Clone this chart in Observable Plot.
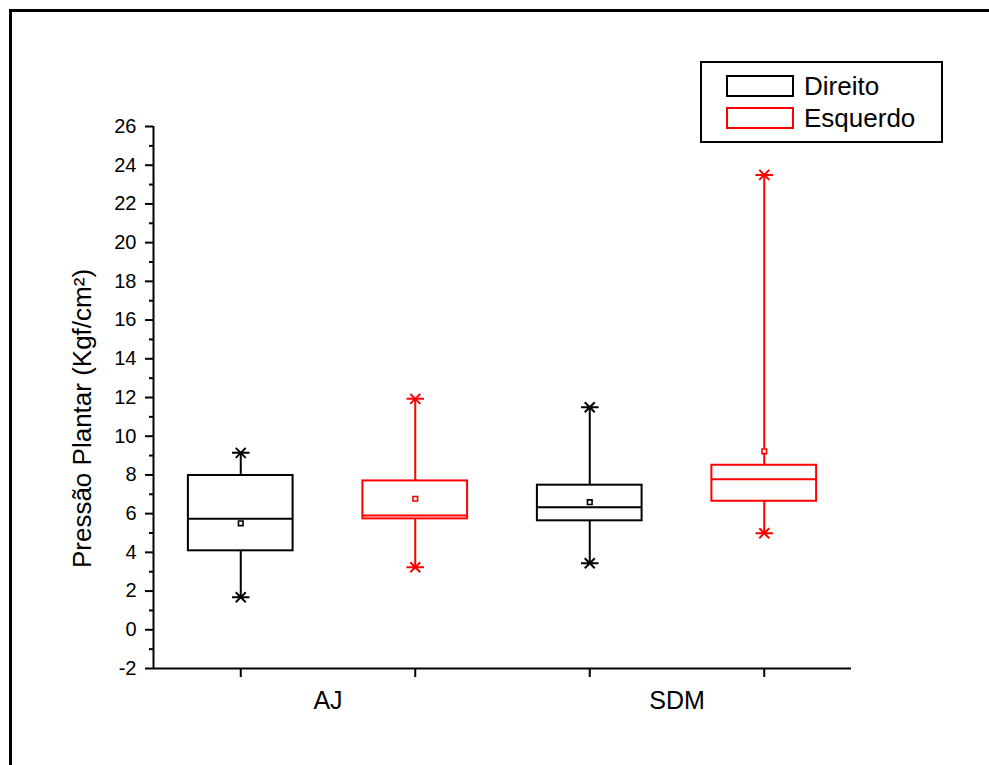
<!DOCTYPE html>
<html>
<head>
<meta charset="utf-8">
<script src="https://cdn.jsdelivr.net/npm/d3@7"></script>
<script src="https://cdn.jsdelivr.net/npm/@observablehq/plot@0.6"></script>
<style>
  html, body { margin: 0; padding: 0; background: #fff; overflow: hidden; }
  #wrap { position: relative; width: 989px; height: 765px; overflow: hidden; font-family: "Liberation Sans", Arial, sans-serif; }
  #frame { position: absolute; left: 9px; top: 9px; width: 1100px; height: 900px; border: 3px solid #000; box-sizing: border-box; pointer-events: none; }
  #chart { position: absolute; left: 0; top: 0; }
  #legend { position: absolute; left: 700px; top: 61px; width: 243px; height: 82px; border: 2px solid #000; box-sizing: border-box; background: #fff; }
  .item { position: absolute; left: 24px; height: 24px; display: flex; align-items: center; }
  .sw { width: 68px; height: 22px; box-sizing: border-box; border: 2px solid #000; }
  .lab { margin-left: 10px; font-size: 26px; line-height: 26px; color: #000; }
</style>
</head>
<body>
<div id="wrap">
  <div id="chart"></div>
  <div id="frame"></div>
  <div id="legend"></div>
</div>
<script>
// ---- data ----
const groups = ["AJ", "SDM"];
const sides = ["Direito", "Esquerdo"];
const sideColors = ["#000000", "#ff0000"];
// order: AJ-Direito, AJ-Esquerdo, SDM-Direito, SDM-Esquerdo
const boxGroup = ["AJ", "AJ", "SDM", "SDM"];
const boxSide = ["Direito", "Esquerdo", "Direito", "Esquerdo"];
const whiskerMin = [1.68, 3.23, 3.44, 4.99];
const q1Values = [4.08, 5.73, 5.63, 6.64];
const medianValues = [5.73, 5.90, 6.33, 7.78];
const q3Values = [7.97, 7.69, 7.47, 8.50];
const whiskerMax = [9.14, 11.93, 11.50, 23.50];
const meanValues = [5.50, 6.77, 6.59, 9.22];
const yTicks = [-2, 0, 2, 4, 6, 8, 10, 12, 14, 16, 18, 20, 22, 24, 26];
const yMinorTicks = [-1, 1, 3, 5, 7, 9, 11, 13, 15, 17, 19, 21, 23, 25];
const yLabel = "Pressão Plantar (Kgf/cm²)";

const rows = boxGroup.map((g, i) => ({
  pos: i + 1,
  group: g,
  side: boxSide[i],
  min: whiskerMin[i],
  q1: q1Values[i],
  median: medianValues[i],
  q3: q3Values[i],
  max: whiskerMax[i],
  mean: meanValues[i]
}));
const groupRows = groups.map((g, i) => ({group: g, pos: 2 * i + 1.5}));
const capRows = rows.flatMap(d => [{pos: d.pos, side: d.side, v: d.min}, {pos: d.pos, side: d.side, v: d.max}]);

const half = 0.3;
const capSymbol = {
  draw(ctx, size) {
    const r = Math.sqrt(size / Math.PI);
    ctx.moveTo(-r * 1.75, 0); ctx.lineTo(r * 1.75, 0);
    ctx.moveTo(-r, -r); ctx.lineTo(r, r);
    ctx.moveTo(-r, r); ctx.lineTo(r, -r);
  }
};

const chart = Plot.plot({
  width: 989,
  height: 765,
  marginLeft: 153,
  marginRight: 138,
  marginTop: 126,
  marginBottom: 97,
  style: {fontFamily: "'Liberation Sans', Arial, sans-serif", background: "transparent", color: "#000", overflow: "visible"},
  x: {domain: [0.5, 4.5]},
  y: {domain: [-2, 26]},
  color: {domain: sides, range: sideColors},
  marks: [
    Plot.axisY({ticks: yTicks, tickSize: 8, tickPadding: 9, fontSize: 20, strokeWidth: 2, label: null, tickFormat: d => String(d).replace("\u2212", "-")}),
    Plot.axisY({ticks: yMinorTicks, tickSize: 4, tickFormat: () => "", strokeWidth: 2, label: null}),
    Plot.axisX({ticks: [1, 2, 3, 4], tickSize: 9, tickFormat: () => "", strokeWidth: 2, label: null}),
    Plot.ruleX([0.5], {y1: -2, y2: 26, strokeWidth: 2}),
    Plot.ruleY([-2], {x1: 0.5, x2: 4.5, strokeWidth: 2}),
    Plot.text(groupRows, {x: "pos", y: -2, text: "group", dy: 32, fontSize: 25, lineAnchor: "middle"}),
    Plot.text([yLabel], {frameAnchor: "left", rotate: -90, dx: -71, dy: 21, fontSize: 26, textAnchor: "middle", lineAnchor: "middle"}),
    Plot.ruleX(rows, {x: "pos", y1: "min", y2: "max", stroke: "side", strokeWidth: 2}),
    Plot.rect(rows, {x1: d => d.pos - half, x2: d => d.pos + half, y1: "q1", y2: "q3", fill: "white", stroke: "side", strokeWidth: 2}),
    Plot.ruleY(rows, {y: "median", x1: d => d.pos - half, x2: d => d.pos + half, stroke: "side", strokeWidth: 2}),
    Plot.dot(rows, {x: "pos", y: "mean", symbol: "square", r: 2.6, fill: "white", stroke: "side", strokeWidth: 1.6}),
    Plot.dot(capRows, {x: "pos", y: "v", symbol: capSymbol, r: 5, stroke: "side", strokeWidth: 2})
  ]
});
document.getElementById("chart").appendChild(chart);

// legend
const legend = document.getElementById("legend");
sides.forEach((s, i) => {
  const item = document.createElement("div");
  item.className = "item";
  item.style.top = (11 + i * 32) + "px";
  const sw = document.createElement("div");
  sw.className = "sw";
  sw.style.borderColor = sideColors[i];
  const lab = document.createElement("span");
  lab.className = "lab";
  lab.textContent = s;
  item.appendChild(sw);
  item.appendChild(lab);
  legend.appendChild(item);
});
</script>
</body>
</html>
